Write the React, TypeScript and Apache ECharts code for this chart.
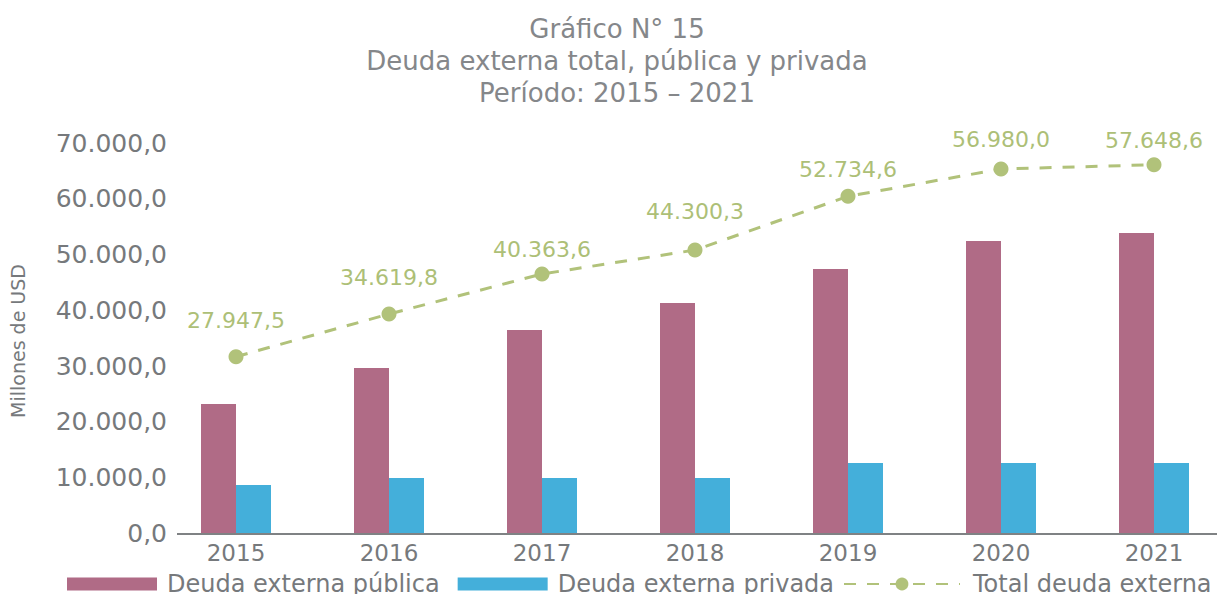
import React, { useEffect, useRef } from "react";
import * as echarts from "echarts";

const years = ["2015", "2016", "2017", "2018", "2019", "2020", "2021"];
const publica = [23212, 29665, 36476, 41316, 47410, 52429, 53863];
const privada = [8693, 9948, 9948, 9948, 12637, 12637, 12637];
const total = [31690, 39344, 46514, 50816, 60441, 65334, 66105];
const totalLabels = ["27.947,5", "34.619,8", "40.363,6", "44.300,3", "52.734,6", "56.980,0", "57.648,6"];
const titleLines = ["Gráfico N° 15", "Deuda externa total, pública y privada", "Período: 2015 – 2021"];
const seriesNames = ["Deuda externa pública", "Deuda externa privada", "Total deuda externa"];

// label nudges (px) so that each value label sits where the reference shows it
const labelNudgeY = [-7, -7, 5, -9, 3, 0, 5];

const FONT = "'DejaVu Sans', sans-serif";
const GRAY = "#76797c";

function fmt(v: number): string {
  const s = Math.round(v).toString().replace(/\B(?=(\d{3})+(?!\d))/g, ".");
  return s + ",0";
}

export default function App() {
  const ref = useRef<HTMLDivElement>(null);
  useEffect(() => {
    if (!ref.current) return;
    const chart = echarts.init(ref.current, undefined, { renderer: "svg" });
    chart.setOption({
      animation: false,
      backgroundColor: "#ffffff",
      title: {
        text: titleLines.join("\n"),
        left: 612,
        top: 8,
        textAlign: "center",
        textStyle: {
          fontFamily: FONT,
          fontSize: 26,
          fontWeight: "normal",
          color: "#85878a",
          lineHeight: 32,
        },
      },
      legend: [
        {
          data: [seriesNames[0], seriesNames[1]],
          left: 62,
          top: 567,
          itemWidth: 90,
          itemHeight: 13,
          itemGap: 18,
          icon: "rect",
          textStyle: { fontFamily: FONT, fontSize: 24, color: GRAY, padding: [0, 0, 0, 5] },
        },
        {
          data: [seriesNames[2]],
          left: 838,
          top: 567,
          itemWidth: 116,
          itemHeight: 16,
          textStyle: { fontFamily: FONT, fontSize: 24, color: GRAY, padding: [0, 0, 0, 8] },
        },
      ],
      grid: { left: 159.5, width: 1071, top: 143, height: 390.5 },
      xAxis: {
        type: "category",
        data: years,
        axisLine: { show: false },
        axisTick: { show: false },
        axisLabel: { fontFamily: FONT, fontSize: 23, color: GRAY, margin: 8 },
      },
      yAxis: {
        type: "value",
        min: 0,
        max: 70000,
        interval: 10000,
        offset: -15.5,
        splitLine: { show: false },
        axisLine: { show: false },
        axisTick: { show: false },
        axisLabel: { fontFamily: FONT, fontSize: 25, color: GRAY, margin: 8, formatter: (v: number) => fmt(v) },
      },
      graphic: [
        {
          type: "line",
          shape: { x1: 177, y1: 534, x2: 1217, y2: 534 },
          style: { stroke: "#7f8284", lineWidth: 2 },
          z: 10,
        },
        {
          type: "text",
          x: 18,
          y: 341,
          rotation: Math.PI / 2,
          style: {
            text: "Millones de USD",
            fontFamily: FONT,
            fontSize: 19,
            fill: GRAY,
            align: "center",
            verticalAlign: "middle",
          },
        },
      ],
      series: [
        {
          name: seriesNames[0],
          type: "bar",
          data: publica,
          barWidth: 35,
          barGap: "0%",
          itemStyle: { color: "#b06b86" },
        },
        {
          name: seriesNames[1],
          type: "bar",
          data: privada,
          barWidth: 35,
          barGap: "0%",
          itemStyle: { color: "#44afda" },
        },
        {
          name: seriesNames[2],
          type: "line",
          data: total.map((v, i) => ({ value: v, label: { offset: [0, labelNudgeY[i]] } })),
          symbol: "circle",
          symbolSize: 15,
          itemStyle: { color: "#b1c27a" },
          lineStyle: { color: "#b1c27a", width: 3, type: [12, 11] },
          label: {
            show: true,
            position: "top",
            distance: 11,
            fontFamily: FONT,
            fontSize: 22,
            color: "#adbf77",
            formatter: (p: any) => totalLabels[p.dataIndex],
          },
          z: 5,
        },
      ],
    });
    return () => chart.dispose();
  }, []);
  return (
    <div style={{ position: "fixed", left: 0, top: 0, width: 1217, height: 594, overflow: "hidden" }}>
      <div ref={ref} style={{ width: 1240, height: 594 }} />
    </div>
  );
}
